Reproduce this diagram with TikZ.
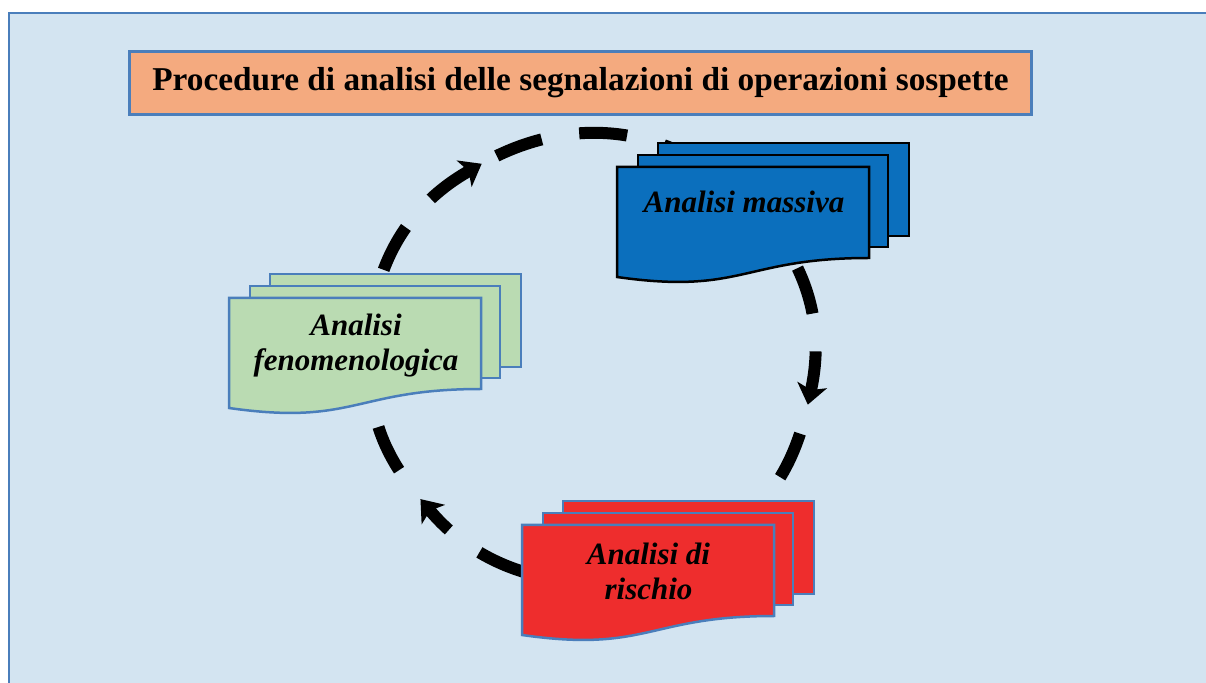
\documentclass[tikz,border=0pt]{standalone}
\usepackage{fontspec}
\setmainfont{Liberation Serif}
\usetikzlibrary{positioning,calc,arrows.meta}
\definecolor{PaleSky}{HTML}{D3E4F1}
\definecolor{SteelEdge}{HTML}{4A7EBB}
\definecolor{Salmon}{HTML}{F4AA7F}
\definecolor{MassBlue}{HTML}{0B6FBD}
\definecolor{SageGreen}{HTML}{BADBB2}
\definecolor{RiskRed}{HTML}{EE2D2D}

\begin{document}
\begin{tikzpicture}[
    x=1pt, y=1pt,
    titlebox/.style={rectangle, draw=SteelEdge, fill=Salmon, line width=3pt, minimum width=902pt, minimum height=63pt, inner sep=0pt, font=\fontsize{33.3}{36}\selectfont\bfseries},
    sheettext/.style={align=center, inner sep=0pt, font=\fontsize{31}{35}\selectfont\bfseries\itshape},
    sheet/.style={line width=2.5pt},
    flow/.style={line width=12pt, black, dash pattern=on 48pt off 38pt},
    headstart/.style={{Stealth[length=20pt, width=30pt, inset=5pt]}-}
  ]
    \useasboundingbox (0,0) rectangle (1206,682);

    % Background
    \draw[fill=PaleSky, draw=SteelEdge, line width=2pt] (8.5,-10) rectangle (1230,668.5);

    % Title
    \node[titlebox] (title) at (580.5,599) {Procedure di analisi delle segnalazioni di operazioni sospette};

    % Points on the cycle
    \coordinate (ctr) at (591,325);
    \coordinate (fenpt) at ([shift={(180:222)}]ctr);
    \coordinate (maspt) at ([shift={(45:222)}]ctr);
    \coordinate (rispt) at ([shift={(-60:222)}]ctr);
    \coordinate (tipA) at ([shift={(119.5:222)}]ctr);
    \coordinate (tipB) at ([shift={(-12.4:222)}]ctr);
    \coordinate (tipC) at ([shift={(219.8:222)}]ctr);

    % Dashed cycle (behind the sheets)
    \draw[flow, headstart] (tipA) to[bend right=30.25] (fenpt);
    \draw[flow, dash phase=69pt] (tipA) to[bend left=37.25] (maspt);
    \draw[flow, headstart, dash phase=8pt] (tipB) to[bend right=28.7] (maspt);
    \draw[flow, dash phase=56pt] (tipB) to[bend left=23.8] (rispt);
    \draw[flow, headstart, dash phase=20pt] (tipC) to[bend right=40.1] (rispt);
    \draw[flow, dash phase=50pt] (tipC) to[bend left=19.9] (fenpt);

    % Stacked sheets
    \foreach \sx/\sy/\fillc/\edgec in {617/515/MassBlue/black, 229/384/SageGreen/SteelEdge, 522/157/RiskRed/SteelEdge}{
      \draw[sheet, fill=\fillc, draw=\edgec] (\sx+41,\sy+24) rectangle ++(251,-93);
      \draw[sheet, fill=\fillc, draw=\edgec] (\sx+21,\sy+12) rectangle ++(250,-92);
      \draw[sheet, fill=\fillc, draw=\edgec] (\sx,\sy) -- (\sx+252,\sy) -- (\sx+252,\sy-91)
        .. controls (\sx+126,\sy-91) and (\sx+126,\sy-128) .. (\sx,\sy-110) -- cycle;
    }

    % Labels
    \node[sheettext, anchor=base] (mas) at (744,469) {Analisi massiva};
    \node[sheettext] (fen) at (356,336) {Analisi\\fenomenologica};
    \node[sheettext] (ris) at (648.5,110.3) {Analisi di\\rischio};

  \end{tikzpicture}
\end{document}
